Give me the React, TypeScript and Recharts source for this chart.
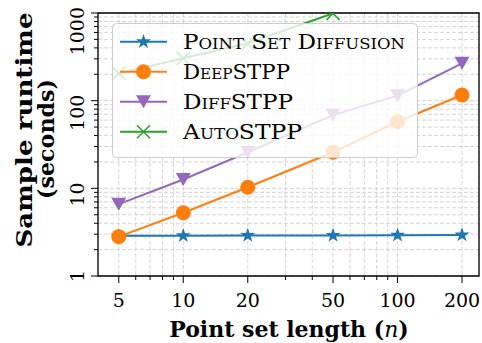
import React from 'react';
import { LineChart, Line, XAxis, YAxis, CartesianGrid, ReferenceArea } from 'recharts';

// point set length n
const lengths = [5, 10, 20, 50, 100, 200];

// sample runtime in seconds
const pointSetDiffusion = [2.88, 2.88, 2.9, 2.9, 2.92, 2.94];
const deepStpp = [2.81, 5.27, 10.3, 25.8, 57.5, 116];
const diffStpp = [6.6, 12.6, 25.8, 68.6, 114, 267];
const autoStpp = [205, 304, 451, 990, null, null];

const xTicks = [5, 6, 7, 8, 9, 10, 20, 30, 40, 50, 60, 70, 80, 90, 100, 200];
const xLabels = [5, 10, 20, 50, 100, 200];
const yTicks = [1, 2, 3, 4, 5, 6, 7, 8, 9, 10, 20, 30, 40, 50, 60, 70, 80, 90, 100, 200, 300, 400, 500, 600, 700, 800, 900, 1000];
const yLabels = [1, 10, 100, 1000];

const seriesNames = ['Point Set Diffusion', 'DeepSTPP', 'DiffSTPP', 'AutoSTPP'];
const seriesKeys = ['psd', 'deep', 'diff', 'auto'];
const seriesColors = ['#1f77b4', '#ff7f0e', '#9467bd', '#2ca02c'];
const seriesMarkers = ['star', 'circle', 'tri', 'x'];
const legendWidths = [222, 107, 110, 119];

const data = lengths.map((n, i) => ({
  n,
  psd: pointSetDiffusion[i],
  deep: deepStpp[i],
  diff: diffStpp[i],
  auto: autoStpp[i],
}));

const serif = { fontFamily: "'DejaVu Serif', 'Liberation Serif', 'Times New Roman', serif" };
const L = 98;
const B = 276;

function Marker({ shape, cx, cy, color }: { shape: string; cx: number; cy: number; color: string }) {
  if (shape === 'circle') return <circle cx={cx} cy={cy} r={7.5} fill={color} />;
  if (shape === 'tri') {
    return <polygon points={`${cx - 7.5},${cy - 6.5} ${cx + 7.5},${cy - 6.5} ${cx},${cy + 6.5}`} fill={color} />;
  }
  if (shape === 'x') {
    const s = 6.5;
    return (
      <g stroke={color} strokeWidth={1.6}>
        <line x1={cx - s} y1={cy - s} x2={cx + s} y2={cy + s} />
        <line x1={cx - s} y1={cy + s} x2={cx + s} y2={cy - s} />
      </g>
    );
  }
  const pts: string[] = [];
  for (let k = 0; k < 10; k++) {
    const r = k % 2 === 0 ? 7.8 : 3.1;
    const a = -Math.PI / 2 + (k * Math.PI) / 5;
    pts.push(`${cx + r * Math.cos(a)},${cy + r * Math.sin(a)}`);
  }
  return <polygon points={pts.join(' ')} fill={color} />;
}

const XTick = (props: any) => {
  const { x, payload } = props;
  const major = xLabels.includes(payload.value);
  return (
    <g>
      <line x1={x} x2={x} y1={B} y2={B + (major ? 7 : 4)} stroke="#000" strokeWidth={1} />
      {major && (
        <text x={x} y={307} textAnchor="middle" fontSize={19} style={serif} fill="#000">
          {payload.value}
        </text>
      )}
    </g>
  );
};

const YTick = (props: any) => {
  const { y, payload } = props;
  const major = yLabels.includes(payload.value);
  return (
    <g>
      <line x1={L - (major ? 7 : 4)} x2={L} y1={y} y2={y} stroke="#000" strokeWidth={1} />
      {major && (
        <text
          x={84}
          y={y - 6}
          transform={`rotate(-90, 84, ${y - 6})`}
          textAnchor="end"
          fontSize={19}
          style={serif}
          fill="#000"
        >
          {payload.value}
        </text>
      )}
    </g>
  );
};

function ChartLegend() {
  return (
    <svg width={306} height={135} style={{ position: 'absolute', left: 112, top: 23 }}>
      <rect x={0.5} y={0.5} width={305} height={134} rx={4} fill="#fff" fillOpacity={0.8} stroke="#cccccc" />
      {seriesNames.map((name, i) => {
        const cy = 18.7 + i * 30;
        return (
          <g key={name}>
            <line x1={8} x2={55} y1={cy} y2={cy} stroke={seriesColors[i]} strokeWidth={2} />
            <Marker shape={seriesMarkers[i]} cx={31.5} cy={cy} color={seriesColors[i]} />
            <text
              x={71}
              y={cy + 7.5}
              fontSize={21}
              style={{ ...serif, fontVariant: 'small-caps' }}
              textLength={legendWidths[i]}
              lengthAdjust="spacingAndGlyphs"
              fill="#000"
            >
              {name}
            </text>
          </g>
        );
      })}
    </svg>
  );
}

export default function App() {
  return (
    <div style={{ position: 'absolute', left: 0, top: 0, width: 482, height: 343, background: '#fff' }}>
      <LineChart width={482} height={343} data={data} margin={{ top: 13, right: 3, bottom: 0, left: 0 }}>
        <CartesianGrid stroke="#d0d0d0" strokeDasharray="4 2" strokeWidth={0.9} />
        <XAxis
          dataKey="n"
          type="number"
          scale="log"
          domain={[4, 240]}
          allowDataOverflow
          ticks={xTicks}
          interval={0}
          height={67}
          axisLine={false}
          tickLine={false}
          tick={<XTick />}
          label={{
            content: () => (
              <text x={289} y={337} textAnchor="middle" fontSize={22} style={serif} fontWeight="bold" fill="#000">
                Point set length (<tspan fontStyle="italic" fontWeight="normal">n</tspan>)
              </text>
            ),
          }}
        />
        <YAxis
          type="number"
          scale="log"
          domain={[1, 1000]}
          allowDataOverflow
          ticks={yTicks}
          interval={0}
          width={98}
          axisLine={false}
          tickLine={false}
          tick={<YTick />}
          label={{
            content: () => (
              <g fontWeight="bold" fontSize={23} fill="#000">
                <text x={32} y={130} transform="rotate(-90, 32, 130)" textAnchor="middle" textLength={235} lengthAdjust="spacingAndGlyphs" style={serif}>
                  Sample runtime
                </text>
                <text x={54} y={139} transform="rotate(-90, 54, 139)" textAnchor="middle" textLength={120} lengthAdjust="spacingAndGlyphs" style={serif}>
                  (seconds)
                </text>
              </g>
            ),
          }}
        />
        {seriesKeys.map((key, i) => (
          <Line
            key={key}
            dataKey={key}
            stroke={seriesColors[i]}
            strokeWidth={2}
            isAnimationActive={false}
            dot={(p: any) =>
              p.cx == null || p.cy == null || p.value == null ? (
                <g key={`${key}-${p.index}`} />
              ) : (
                <Marker key={`${key}-${p.index}`} shape={seriesMarkers[i]} cx={p.cx} cy={p.cy} color={seriesColors[i]} />
              )
            }
            activeDot={false}
          />
        ))}
        <ReferenceArea x1={4} x2={240} y1={1} y2={1000} fill="none" stroke="#000" strokeWidth={1.3} ifOverflow="visible" />
      </LineChart>
      <ChartLegend />
    </div>
  );
}
